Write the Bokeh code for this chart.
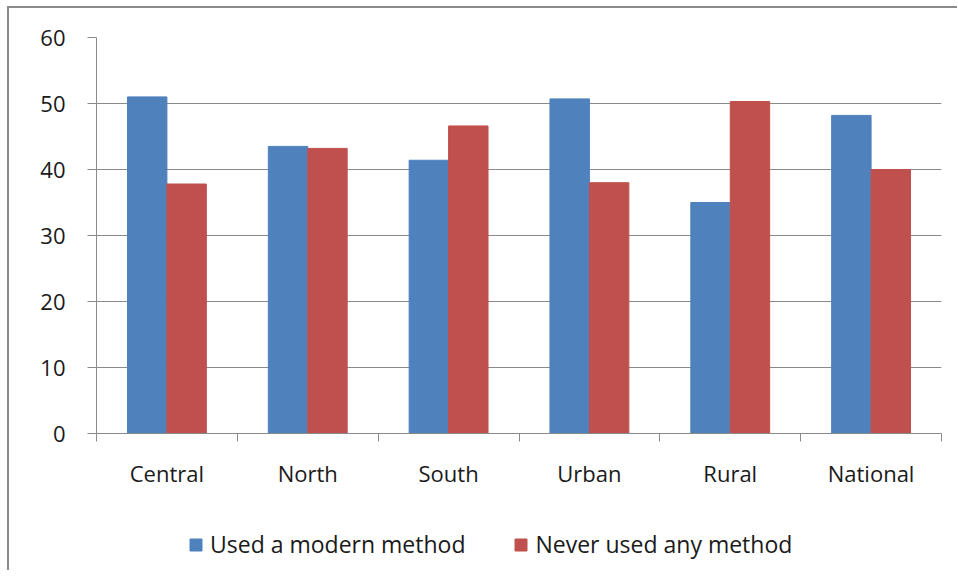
import numpy as np
from bokeh.plotting import figure
from bokeh.layouts import column
from bokeh.models import (ColumnDataSource, FixedTicker, Range1d, Legend, LegendItem)
from bokeh.embed import file_html
from bokeh.resources import INLINE

categories = ["Central", "North", "South", "Urban", "Rural", "National"]
modern = [51.0, 43.5, 41.4, 50.7, 35.0, 48.2]
never = [37.8, 43.2, 46.6, 38.0, 50.3, 40.0]
series_names = ["Used a modern method", "Never used any method"]
y_ticks = [0, 10, 20, 30, 40, 50, 60]

BLUE = "#4f81bd"
RED = "#c0504d"
GRID = "#8a8a8a"
TEXT = "#1a1a1a"
FONT = "Open Sans"

centers = np.arange(len(categories)) + 0.5
bw = 0.28
src = ColumnDataSource(dict(
    x_m=centers - bw / 2, x_n=centers + bw / 2,
    modern=modern, never=never, cat=categories))

p = figure(width=948, height=490, output_backend="svg", toolbar_location=None,
           x_range=Range1d(0, len(categories)), y_range=Range1d(0, 60),
           min_border_left=87, min_border_right=16, min_border_top=29,
           min_border_bottom=65)
p.outline_line_color = None
p.background_fill_color = "white"

r1 = p.vbar(x="x_m", top="modern", width=bw, source=src, fill_color=BLUE, line_color=BLUE)
r2 = p.vbar(x="x_n", top="never", width=bw, source=src, fill_color=RED, line_color=RED)

# x axis: labels at category centres, ticks at boundaries (minor ticks)
xa = p.xaxis[0]
xa.ticker = FixedTicker(ticks=list(centers), minor_ticks=list(range(len(categories) + 1)))
xa.major_label_overrides = {float(c): lab for c, lab in zip(centers, categories)}
xa.major_tick_line_color = None
xa.minor_tick_line_color = GRID
xa.minor_tick_out = 8
xa.minor_tick_in = 0
xa.axis_line_color = GRID
xa.major_label_text_font = FONT
xa.major_label_text_font_size = "22px"
xa.major_label_text_color = TEXT
xa.major_label_standoff = 16

ya = p.yaxis[0]
ya.ticker = FixedTicker(ticks=y_ticks, minor_ticks=[])
ya.major_tick_line_color = GRID
ya.major_tick_out = 9
ya.major_tick_in = 0
ya.axis_line_color = GRID
ya.major_label_text_font = FONT
ya.major_label_text_font_size = "22px"
ya.major_label_text_color = TEXT
ya.major_label_standoff = 22

p.xgrid.grid_line_color = None
p.ygrid.grid_line_color = GRID
p.ygrid.grid_line_width = 1

# legend strip below the chart (its frame is aligned with the chart's frame)
lg = figure(width=948, height=72, output_backend="svg", toolbar_location=None,
            x_range=Range1d(0, 1), y_range=Range1d(0, 1),
            min_border_left=0, min_border_right=0, min_border_top=0, min_border_bottom=0)
lg.axis.visible = False
lg.grid.visible = False
lg.outline_line_color = None
k1 = lg.vbar(x="x_m", top="modern", width=bw, source=src, fill_color=BLUE,
             line_color=BLUE, visible=False)
k2 = lg.vbar(x="x_n", top="never", width=bw, source=src, fill_color=RED,
             line_color=RED, visible=False)

legend = Legend(items=[LegendItem(label=series_names[0], renderers=[k1]),
                       LegendItem(label=series_names[1], renderers=[k2])],
                orientation="horizontal", location=(92, 10),
                glyph_width=15, glyph_height=15, label_standoff=7, spacing=48,
                padding=0, margin=0, border_line_color=None,
                background_fill_alpha=0, inactive_fill_alpha=0,
                label_text_font=FONT, label_text_font_size="23px",
                label_text_color=TEXT)
lg.add_layout(legend, "center")

layout = column(p, lg, spacing=0,
                styles={"margin-left": "7px", "margin-top": "6px",
                        "border-left": "2px solid #8a8a8a",
                        "border-top": "2px solid #8a8a8a"})

open("out.html", "w").write(file_html(layout, INLINE))
